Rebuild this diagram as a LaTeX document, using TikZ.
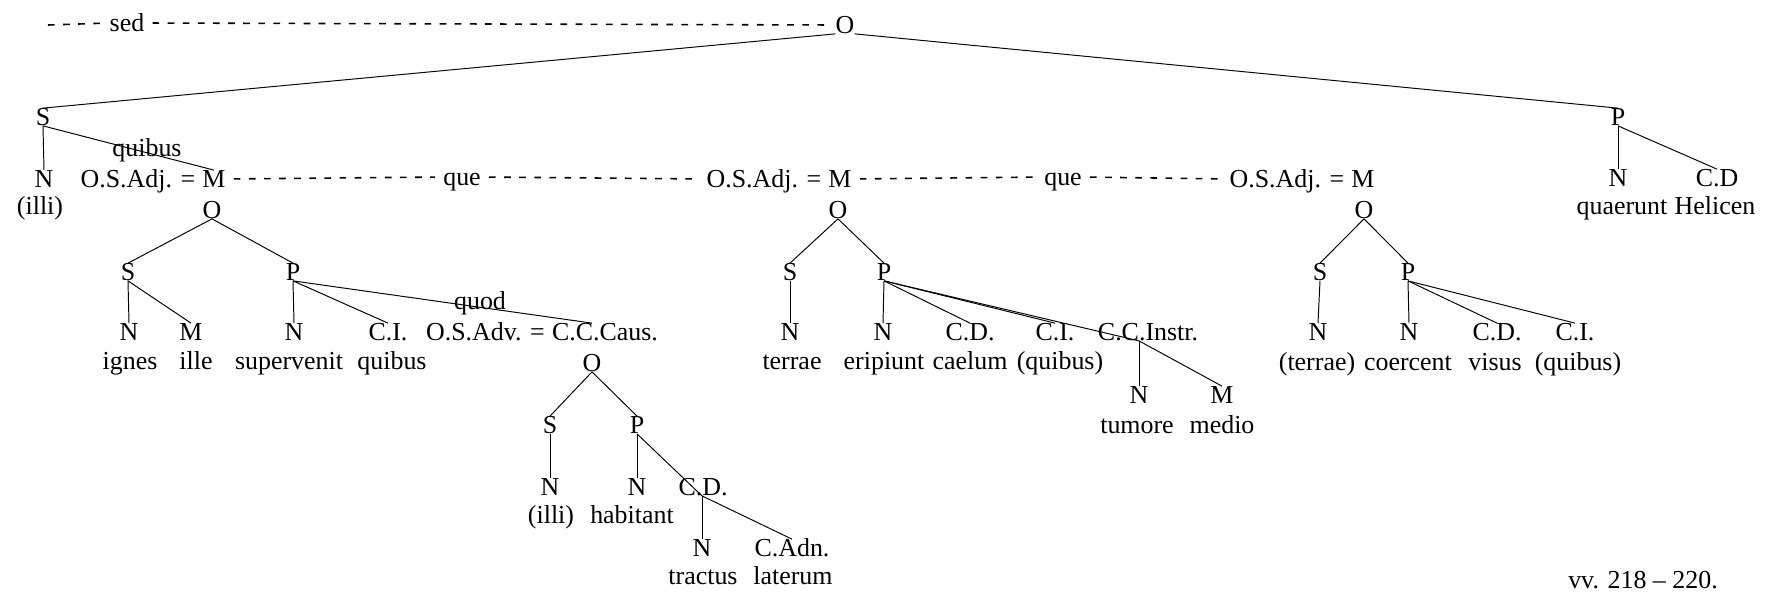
\documentclass[tikz,border=0pt]{standalone}
\usepackage{fontspec}
\setmainfont{Liberation Serif}
\usetikzlibrary{positioning}

\begin{document}
\begin{tikzpicture}[
  x=0.02cm, y=-0.02cm,
  every node/.style={inner sep=0pt, font=\fontsize{14.75}{17}\selectfont, text height=9.7pt, text depth=0pt},
  branch/.style={draw, line width=0.55pt},
  link/.style={draw, line width=0.9pt, dash pattern=on 3.8pt off 4.8pt, shorten <=4.5pt, shorten >=4.5pt}
]
\useasboundingbox (0,0) rectangle (1765,592);

% main clause
\node (o) at (845,25) {O};
\node (sed) at (127,23) {sed};
\coordinate (lead) at (48,25);
\node (s) at (43,117) {S};
\node (p) at (1618,117) {P};
\node (sN) at (44,179) {N};
\node (sNw) at (40,206) {(illi)};
\node (quibus) at (147,148) {quibus};
\node (pN) at (1618,178) {N};
\node (pCD) at (1717,178) {C.D};
\node (pNw) at (1622,206) {quaerunt};
\node (pCDw) at (1715,206) {Helicen};

% the three relative clauses
\node (mA) at (214,179) {M};
\node[left=3.7pt of mA] (adjA) {O.S.Adj. =};
\node (queA) at (462,177) {que};
\node (mB) at (840,179) {M};
\node[left=3.7pt of mB] (adjB) {O.S.Adj. =};
\node (queB) at (1063,177) {que};
\node (mC) at (1363,179) {M};
\node[left=3.7pt of mC] (adjC) {O.S.Adj. =};

% clause A: ignes ille supervenit quibus
\node (oA) at (212,210) {O};
\node (sA) at (128,272) {S};
\node (pA) at (293,272) {P};
\node (sAN) at (129,332) {N};
\node (sAM) at (191,332) {M};
\node (pAN) at (294,332) {N};
\node (pACI) at (388,332) {C.I.};
\node (sANw) at (130,361) {ignes};
\node (sAMw) at (196,361) {ille};
\node (pANw) at (289,361) {supervenit};
\node (pACIw) at (392,361) {quibus};
\node (quod) at (480,301) {quod};
\node (ccaus) at (605,332) {C.C.Caus.};
\node[left=3.7pt of ccaus] (advD) {O.S.Adv. =};

% clause D: (illi) habitant tractus laterum
\node (oD) at (592,363) {O};
\node (sD) at (550,425) {S};
\node (pD) at (637,425) {P};
\node (sDN) at (550,487) {N};
\node (pDN) at (637,487) {N};
\node (pDCD) at (703,487) {C.D.};
\node (sDNw) at (551,515) {(illi)};
\node (pDNw) at (632,515) {habitant};
\node (cdN) at (702,548) {N};
\node (cdAdn) at (792,548) {C.Adn.};
\node (cdNw) at (703,576) {tractus};
\node (cdAdnw) at (793,576) {laterum};

% clause B: terrae eripiunt caelum (quibus) tumore medio
\node (oB) at (838,210) {O};
\node (sB) at (790,272) {S};
\node (pB) at (884,272) {P};
\node (sBN) at (790,332) {N};
\node (pBN) at (883,332) {N};
\node (pBCD) at (970,332) {C.D.};
\node (pBCI) at (1055,332) {C.I.};
\node (pBCC) at (1148,332) {C.C.Instr.};
\node (sBNw) at (792,361) {terrae};
\node (pBNw) at (884,361) {eripiunt};
\node (pBCDw) at (970,361) {caelum};
\node (pBCIw) at (1060,361) {(quibus)};
\node (ccN) at (1139,395) {N};
\node (ccM) at (1222,395) {M};
\node (ccNw) at (1137,425) {tumore};
\node (ccMw) at (1222,425) {medio};

% clause C: (terrae) coercent visus (quibus)
\node (oC) at (1364,210) {O};
\node (sC) at (1320,272) {S};
\node (pC) at (1408,272) {P};
\node (sCN) at (1318,332) {N};
\node (pCN) at (1409,332) {N};
\node (pCCD) at (1497,332) {C.D.};
\node (pCCI) at (1575,332) {C.I.};
\node (sCNw) at (1317,362) {(terrae)};
\node (pCNw) at (1408,362) {coercent};
\node (pCCDw) at (1495,362) {visus};
\node (pCCIw) at (1578,362) {(quibus)};

\node (verses) at (1643,580) {vv. 218 -- 220.};

% branches
\draw[branch] (o.south west) -- (s.north);
\draw[branch] (o.south east) -- (p.north);
\draw[branch] (s.south) -- (sN.north);
\draw[branch] (s.south) -- (mA.north);
\draw[branch] (p.south) -- (pN.north);
\draw[branch] (p.south) -- (pCD.north);

\draw[branch] (oA.south) -- (sA.north);
\draw[branch] (oA.south) -- (pA.north);
\draw[branch] (sA.south) -- (sAN.north);
\draw[branch] (sA.south) -- (sAM.north);
\draw[branch] (pA.south) -- (pAN.north);
\draw[branch] (pA.south) -- (pACI.north);
\draw[branch] (pA.south) -- (ccaus.north -| oD);

\draw[branch] (oD.south) -- (sD.north);
\draw[branch] (oD.south) -- (pD.north);
\draw[branch] (sD.south) -- (sDN.north);
\draw[branch] (pD.south) -- (pDN.north);
\draw[branch] (pD.south) -- (pDCD.south -| cdN);
\draw[branch] (pDCD.south -| cdN) -- (cdN.north);
\draw[branch] (pDCD.south -| cdN) -- (cdAdn.north);

\draw[branch] (oB.south) -- (sB.north);
\draw[branch] (oB.south) -- (pB.north);
\draw[branch] (sB.south) -- (sBN.north);
\draw[branch] (pB.south) -- (pBN.north);
\draw[branch] (pB.south) -- (pBCD.north);
\draw[branch] (pB.south) -- (pBCI.north);
\draw[branch] (pB.south) -- (pBCC.south -| ccN);
\draw[branch] (pBCC.south -| ccN) -- (ccN.north);
\draw[branch] (pBCC.south -| ccN) -- (ccM.north);

\draw[branch] (oC.south) -- (sC.north);
\draw[branch] (oC.south) -- (pC.north);
\draw[branch] (sC.south) -- (sCN.north);
\draw[branch] (pC.south) -- (pCN.north);
\draw[branch] (pC.south) -- (pCCD.north);
\draw[branch] (pC.south) -- (pCCI.north);

% coordinating links
\draw[link, shorten <=0pt] (lead) -- (sed.west);
\draw[link] (sed.east) -- (o.west);
\draw[link] (mA.east) -- (queA.west);
\draw[link] (queA.east) -- (adjB.west);
\draw[link] (mB.east) -- (queB.west);
\draw[link] (queB.east) -- (adjC.west);
\end{tikzpicture}
\end{document}
